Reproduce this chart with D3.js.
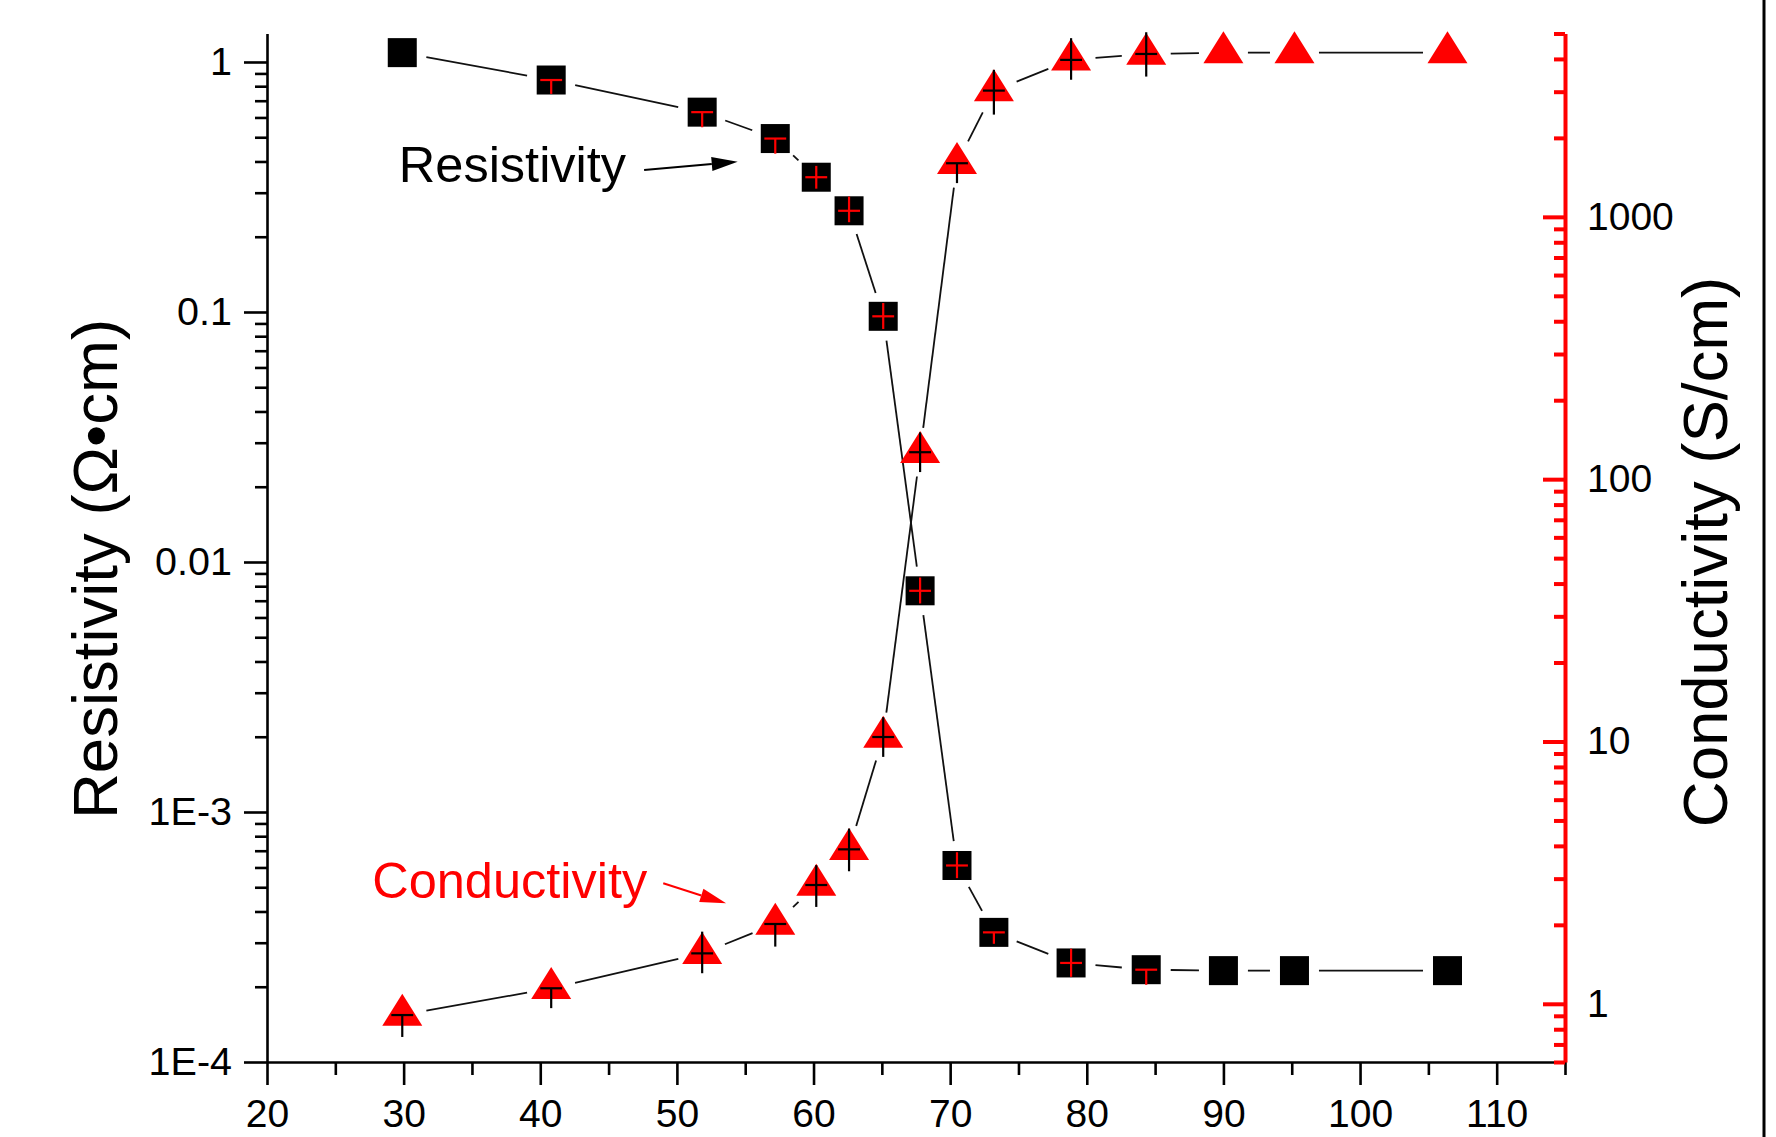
<!DOCTYPE html>
<html>
<head>
<meta charset="utf-8" />
<title>Resistivity / Conductivity</title>
<script src="https://cdn.jsdelivr.net/npm/d3@7"></script>
<style>
  body { margin: 0; background: #fff; }
  svg { display: block; background: #fff; }
  text { font-family: "Liberation Sans", Arial, sans-serif; }
</style>
</head>
<body>
<svg id="chart" width="1776" height="1137"></svg>
<script>
// shared x values (temperature)
var temp = [29.9, 40.8, 51.85, 57.2, 60.2, 62.6, 65.1, 67.8, 70.5, 73.2, 78.85, 84.35, 90.0, 95.2, 106.4];

// Resistivity (Ohm cm), left axis
var resistivity = [1.09, 0.847, 0.630, 0.494, 0.346, 0.254, 0.0961, 0.00767, 6.11e-4, 3.30e-4, 2.49e-4, 2.34e-4, 2.32e-4, 2.32e-4, 2.32e-4];
// Conductivity (S/cm), right axis
var conductivity = [0.906, 1.146, 1.557, 2.015, 2.837, 3.88, 10.4, 126.7, 1601, 3029, 3966, 4178, 4227, 4227, 4227];

// error bars: x half width, relative y error below / above
var resXErr   = [0, 0.8, 0.8, 0.8, 0.8, 0.8, 0.8, 0.8, 0.8, 0.8, 0.8, 0.8, 0, 0, 0];
var resErrLo  = [0, 0.12, 0.13, 0.13, 0.10, 0.10, 0.11, 0.11, 0.11, 0.10, 0.12, 0.13, 0, 0, 0];
var resErrHi  = [0, 0, 0, 0, 0.11, 0.14, 0.13, 0.13, 0.13, 0, 0.14, 0, 0, 0, 0];
var condXErr  = [0.8, 0.8, 0.8, 0.8, 0.8, 0.8, 0.8, 0.8, 0.8, 0.8, 0.8, 0.8, 0, 0, 0];
var condErrLo = [0.175, 0.16, 0.16, 0.18, 0.175, 0.175, 0.16, 0.16, 0.16, 0.19, 0.16, 0.18, 0, 0, 0];
var condErrHi = [0, 0, 0.21, 0, 0.19, 0.20, 0.19, 0.19, 0, 0.20, 0.21, 0.21, 0, 0, 0];

// ticks
var xTicks = [20, 30, 40, 50, 60, 70, 80, 90, 100, 110];
var xMinor = [25, 35, 45, 55, 65, 75, 85, 95, 105, 115];
var resTicks = [1e-4, 1e-3, 0.01, 0.1, 1];
var resTickLabels = ['1E-4', '1E-3', '0.01', '0.1', '1'];
var condTicks = [1, 10, 100, 1000];
var condTickLabels = ['1', '10', '100', '1000'];

var svg = d3.select('#chart');
var font = '"Liberation Sans", Arial, sans-serif';

var scX = d3.scaleLinear().domain([20, 115]).range([267, 1565]);
var scL = d3.scaleLog().domain([1e-4, 1.3]).range([1062, 33.5]);
var scR = d3.scaleLog().domain([0.6, 5000]).range([1062, 33.5]);

// minor ticks (2..9 of every decade) for the log axes
function logMinor(lo, hi) {
  var out = [];
  for (var e = -5; e <= 4; e++) {
    for (var m = 2; m <= 9; m++) {
      var v = m * Math.pow(10, e);
      if (v >= lo * 0.999 && v <= hi * 1.001) out.push(v);
    }
  }
  return out;
}

// ---- lines with a gap around each symbol
function drawLine(ys, sc) {
  var g = svg.append('g');
  var gap = 24.5;
  for (var i = 0; i < temp.length - 1; i++) {
    var x1 = scX(temp[i]), y1 = sc(ys[i]);
    var x2 = scX(temp[i + 1]), y2 = sc(ys[i + 1]);
    var dx = x2 - x1, dy = y2 - y1, len = Math.sqrt(dx * dx + dy * dy);
    if (len <= 2 * gap) continue;
    var ux = dx / len, uy = dy / len;
    g.append('line')
      .attr('x1', x1 + ux * gap).attr('y1', y1 + uy * gap)
      .attr('x2', x2 - ux * gap).attr('y2', y2 - uy * gap)
      .attr('stroke', '#111').attr('stroke-width', 1.8);
  }
}
drawLine(resistivity, scL);
drawLine(conductivity, scR);

// ---- symbols
var pts = temp.map(function (t, i) { return i; });

svg.append('g').selectAll('rect')
  .data(pts).enter().append('rect')
  .attr('x', function (i) { return scX(temp[i]) - 14.5; })
  .attr('y', function (i) { return scL(resistivity[i]) - 14.5; })
  .attr('width', 29).attr('height', 29)
  .attr('fill', '#000');

svg.append('g').selectAll('path')
  .data(pts).enter().append('path')
  .attr('d', 'M0,-21.3L20,10.7L-20,10.7Z')
  .attr('transform', function (i) {
    return 'translate(' + scX(temp[i]) + ',' + scR(conductivity[i]) + ')';
  })
  .attr('fill', '#ff0000');

// ---- error bars drawn over the symbols
function drawErr(ys, sc, xe, lo, hi, color) {
  var g = svg.append('g').attr('stroke', color).attr('stroke-width', 2.2);
  pts.forEach(function (i) {
    var cx = scX(temp[i]), cy = sc(ys[i]);
    if (xe[i] > 0) {
      g.append('line')
        .attr('x1', scX(temp[i] - xe[i])).attr('x2', scX(temp[i] + xe[i]))
        .attr('y1', cy).attr('y2', cy);
    }
    if (lo[i] > 0 || hi[i] > 0) {
      g.append('line')
        .attr('x1', cx).attr('x2', cx)
        .attr('y1', sc(ys[i] * (1 + hi[i])))
        .attr('y2', sc(ys[i] * (1 - lo[i])));
    }
  });
}
drawErr(resistivity, scL, resXErr, resErrLo, resErrHi, '#ff0000');
drawErr(conductivity, scR, condXErr, condErrLo, condErrHi, '#000');

// ---- axes
function styleAxis(g, color, width, size) {
  g.selectAll('path.domain').attr('stroke', color).attr('stroke-width', width);
  g.selectAll('.tick line').attr('stroke', color).attr('stroke-width', width);
  g.selectAll('.tick text').attr('fill', '#000').attr('font-size', size).attr('font-family', font);
}

// bottom
var axB = svg.append('g').attr('transform', 'translate(0,1062)')
  .call(d3.axisBottom(scX).tickValues(xTicks).tickSize(23).tickSizeOuter(0).tickPadding(14)
    .tickFormat(d3.format('d')));
styleAxis(axB, '#000', 2.6, 39);
var axBm = svg.append('g').attr('transform', 'translate(0,1062)')
  .call(d3.axisBottom(scX).tickValues(xMinor).tickSize(13).tickFormat(''));
axBm.select('.domain').remove();
styleAxis(axBm, '#000', 2.6, 39);

// left
var axL = svg.append('g').attr('transform', 'translate(267,0)')
  .call(d3.axisLeft(scL).tickValues(resTicks).tickSize(23).tickSizeOuter(0).tickPadding(12)
    .tickFormat(function (d, i) { return resTickLabels[i]; }));
styleAxis(axL, '#000', 2.6, 39.5);
var axLm = svg.append('g').attr('transform', 'translate(267,0)')
  .call(d3.axisLeft(scL).tickValues(logMinor(1e-4, 1.3)).tickSize(12).tickFormat(''));
axLm.select('.domain').remove();
styleAxis(axLm, '#000', 2.6, 39);

// right (red, ticks point inward)
var axR = svg.append('g').attr('transform', 'translate(1565,0)')
  .call(d3.axisRight(scR).tickValues(condTicks).tickSizeInner(-22).tickSizeOuter(0).tickPadding(22)
    .tickFormat(function (d, i) { return condTickLabels[i]; }));
styleAxis(axR, '#ff0000', 4, 39);
var axRm = svg.append('g').attr('transform', 'translate(1565,0)')
  .call(d3.axisRight(scR).tickValues(logMinor(0.6, 5000)).tickSizeInner(-11).tickFormat(''));
axRm.select('.domain').remove();
styleAxis(axRm, '#ff0000', 4, 39);

// ---- axis titles
svg.append('text')
  .attr('transform', 'translate(117,569) rotate(-90)')
  .attr('text-anchor', 'middle').attr('font-size', 63.5).attr('fill', '#000')
  .text('Resistivity (\u03A9\u2022cm)');
svg.append('text')
  .attr('transform', 'translate(1727,552) rotate(-90)')
  .attr('text-anchor', 'middle').attr('font-size', 63.5).attr('fill', '#000')
  .text('Conductivity (S/cm)');

// ---- annotations (positions in data units)
var notes = [
  { text: 'Resistivity', color: '#000', sc: scL, x: 29.65, y: 0.331, ax: [47.6, 54.45], ay: [0.370, 0.399] },
  { text: 'Conductivity', color: '#ff0000', sc: scR, x: 27.7, y: 2.53, ax: [49.0, 53.6], ay: [2.88, 2.416] }
];
notes.forEach(function (n) {
  svg.append('text')
    .attr('x', scX(n.x)).attr('y', n.sc(n.y))
    .attr('font-size', 50.5).attr('fill', n.color)
    .text(n.text);
  var x1 = scX(n.ax[0]), y1 = n.sc(n.ay[0]);
  var x2 = scX(n.ax[1]), y2 = n.sc(n.ay[1]);
  var dx = x2 - x1, dy = y2 - y1, len = Math.sqrt(dx * dx + dy * dy);
  var ux = dx / len, uy = dy / len;
  var hl = 26, hw = 7;
  var bx = x2 - ux * hl, by = y2 - uy * hl;
  svg.append('line')
    .attr('x1', x1).attr('y1', y1).attr('x2', bx).attr('y2', by)
    .attr('stroke', n.color).attr('stroke-width', 2);
  svg.append('path')
    .attr('d', 'M' + x2 + ',' + y2 +
      'L' + (bx - uy * hw) + ',' + (by + ux * hw) +
      'L' + (bx + uy * hw) + ',' + (by - ux * hw) + 'Z')
    .attr('fill', n.color);
});

// frame edge on the right of the picture
svg.append('line')
  .attr('x1', 1764).attr('x2', 1764).attr('y1', 0).attr('y2', 1137)
  .attr('stroke', '#000').attr('stroke-width', 3);
</script>
</body>
</html>
